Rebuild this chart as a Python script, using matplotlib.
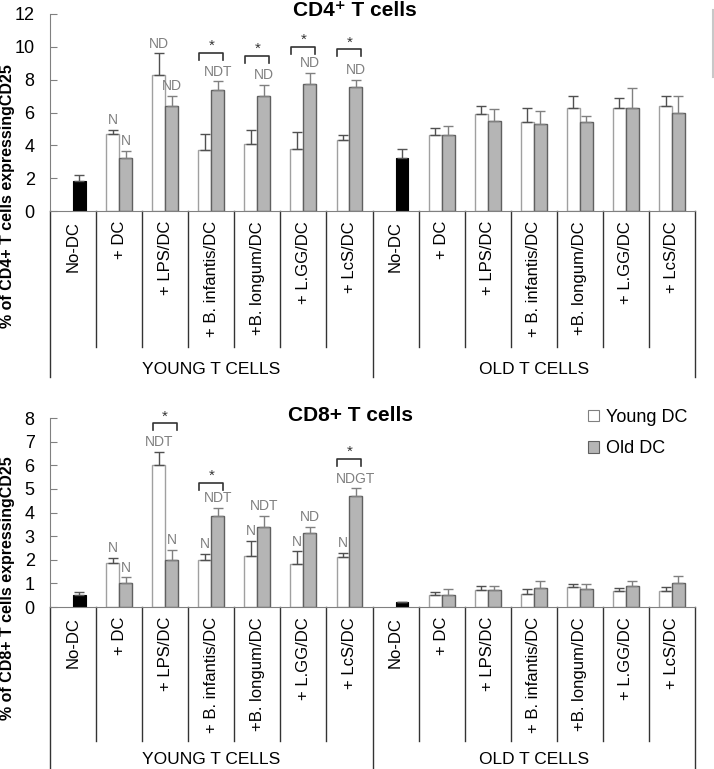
import numpy as np
import matplotlib
matplotlib.use('Agg')
import matplotlib.pyplot as plt
from matplotlib.patches import Patch
from matplotlib.lines import Line2D

plt.rcParams['font.family'] = ['Liberation Sans', 'DejaVu Sans']

# categories, repeated for young and old T cells
cats = ['No-DC', '+ DC', '+ LPS/DC', '+ B. infantis/DC', '+B. longum/DC', '+ L.GG/DC', '+ LcS/DC']
groups = ['YOUNG T CELLS', 'OLD T CELLS']
legend_labels = ['Young DC', 'Old DC']

# CD4+ panel (first 6 = young T cells, last 6 = old T cells)
cd4_nodc = [1.8, 3.2]
cd4_nodc_err = [0.4, 0.6]
cd4_young = [4.7, 8.3, 3.7, 4.1, 3.8, 4.3, 4.6, 5.9, 5.4, 6.3, 6.3, 6.4]
cd4_young_err = [0.25, 1.3, 1.0, 0.85, 1.0, 0.3, 0.45, 0.5, 0.85, 0.7, 0.6, 0.6]
cd4_old = [3.2, 6.4, 7.4, 7.0, 7.75, 7.55, 4.6, 5.5, 5.3, 5.4, 6.3, 6.0]
cd4_old_err = [0.45, 0.6, 0.5, 0.7, 0.65, 0.45, 0.6, 0.7, 0.8, 0.37, 1.2, 1.0]
cd4_young_lbl = ['N', 'ND', '', '', '', '', '', '', '', '', '', '']
cd4_old_lbl = ['N', 'ND', 'NDT', 'ND', 'ND', 'ND', '', '', '', '', '', '']
cd4_sig = [3, 4, 5, 6]
cd4_sig_h = [9.63, 9.43, 10.0, 9.84]

# CD8+ panel
cd8_nodc = [0.5, 0.2]
cd8_nodc_err = [0.15, 0.03]
cd8_young = [1.85, 6.0, 2.0, 2.15, 1.8, 2.1, 0.5, 0.7, 0.56, 0.85, 0.66, 0.66]
cd8_young_err = [0.22, 0.57, 0.25, 0.65, 0.55, 0.2, 0.13, 0.2, 0.22, 0.12, 0.13, 0.18]
cd8_old = [1.0, 2.0, 3.85, 3.4, 3.15, 4.7, 0.5, 0.7, 0.8, 0.77, 0.87, 1.0]
cd8_old_err = [0.25, 0.42, 0.33, 0.45, 0.24, 0.32, 0.25, 0.2, 0.28, 0.2, 0.23, 0.32]
cd8_young_lbl = ['N', 'NDT', 'N', 'N', 'N', 'N', '', '', '', '', '', '']
cd8_old_lbl = ['N', 'N', 'NDT', 'NDT', 'ND', 'NDGT', '', '', '', '', '', '']
cd8_sig = [2, 3, 6]
cd8_sig_h = [7.77, 5.25, 6.27]

W, H = 714, 769
fig = plt.figure(figsize=(W / 100, H / 100), dpi=100)

GREY = '#b5b5b5'
off = 0.14
bw = 0.28


def panel(rect_px, ymax, ystep, nodc, nodc_err, young, young_err, old, old_err,
          ylbl, olbl, sig, sig_h, leg):
    x0, ytop, x1, ybot = rect_px
    ax = fig.add_axes([x0 / W, 1 - ybot / H, (x1 - x0) / W, (ybot - ytop) / H])
    hpx = ybot - ytop
    x_nodc = np.array([0, 7])
    x_dc = np.array([1, 2, 3, 4, 5, 6, 8, 9, 10, 11, 12, 13])

    ax.bar(x_nodc + off, nodc, bw, color='black', edgecolor='black', lw=0.8, zorder=2)
    ax.bar(x_dc - off, young, bw, color='white', edgecolor='#a0a0a0', lw=1, zorder=2)
    ax.bar(x_dc + off, old, bw, color=GREY, edgecolor='#606060', lw=1, zorder=2)
    ax.errorbar(x_nodc + off, nodc, yerr=[np.zeros(2), nodc_err], fmt='none',
                ecolor='#555555', elinewidth=1, capsize=3.5, capthick=1, zorder=3)
    ax.errorbar(x_dc - off, young, yerr=[np.zeros(12), young_err], fmt='none',
                ecolor='#505050', elinewidth=1, capsize=3.5, capthick=1, zorder=3)
    ax.errorbar(x_dc + off, old, yerr=[np.zeros(12), old_err], fmt='none',
                ecolor='#808080', elinewidth=1, capsize=3.5, capthick=1, zorder=3)

    # letters above the bars
    for i in range(12):
        if ylbl[i]:
            ax.annotate(ylbl[i], (x_dc[i] - off, young[i] + young_err[i]), xytext=(0, 2),
                        textcoords='offset points', ha='center', va='bottom',
                        color='#808080', fontsize=10)
        if olbl[i]:
            ax.annotate(olbl[i], (x_dc[i] + off, old[i] + old_err[i]), xytext=(0, 2),
                        textcoords='offset points', ha='center', va='bottom',
                        color='#808080', fontsize=10)

    # significance brackets
    leg_len = 7 / hpx * ymax
    for p, h in zip(sig, sig_h):
        ax.plot([p - 0.26, p - 0.26, p + 0.26, p + 0.26], [h - leg_len, h, h, h - leg_len],
                color='#333333', lw=1.2, clip_on=False, zorder=4)
        ax.text(p, h, '*', ha='center', va='bottom', fontsize=11, color='#333333')

    ax.set_xlim(-0.5, 13.5)
    ax.set_ylim(0, ymax)
    ax.set_yticks(np.arange(0, ymax + 0.01, ystep))
    ax.set_xticks([])
    for s in ['top', 'right']:
        ax.spines[s].set_visible(False)
    ax.spines['left'].set_color('#808080')
    ax.spines['bottom'].set_color('#808080')
    ax.tick_params(axis='y', direction='in', length=5, color='#808080', pad=11, labelsize=13)

    # category label area under the axis
    trans = ax.get_xaxis_transform()
    for b in range(15):
        long_line = b in (0, 7, 14)
        yend = -leg[2] / hpx if long_line else -leg[0] / hpx
        ax.plot([b - 0.5, b - 0.5], [0, yend], transform=trans, color='#333333',
                lw=1, clip_on=False)
    for i in range(14):
        ax.text(i, -10 / hpx, cats[i % 7], rotation=90, ha='center', va='top',
                transform=trans, fontsize=12)
    ax.text(3, -leg[1] / hpx, groups[0], ha='center', va='center', transform=trans, fontsize=12.5)
    ax.text(10, -leg[1] / hpx, groups[1], ha='center', va='center', transform=trans, fontsize=12.5)
    return ax


panel((50, 14, 695, 211), 12, 2, cd4_nodc, cd4_nodc_err, cd4_young, cd4_young_err,
      cd4_old, cd4_old_err, cd4_young_lbl, cd4_old_lbl, cd4_sig, cd4_sig_h, (136, 158, 166))
panel((50, 418, 695, 607), 8, 1, cd8_nodc, cd8_nodc_err, cd8_young, cd8_young_err,
      cd8_old, cd8_old_err, cd8_young_lbl, cd8_old_lbl, cd8_sig, cd8_sig_h, (134, 153, 162))

fig.text(355 / W, 1 - 10 / H, 'CD4⁺ T cells', ha='center', va='center', fontsize=15, fontweight='bold')
fig.text(351 / W, 1 - 415 / H, 'CD8+ T cells', ha='center', va='center', fontsize=15, fontweight='bold')
fig.text(8 / W, 1 - 196 / H, '% of CD4+ T cells expressingCD25', rotation=90, ha='center',
         va='center', fontsize=11.5, fontweight='bold')
fig.text(8 / W, 1 - 588 / H, '% of CD8+ T cells expressingCD25', rotation=90, ha='center',
         va='center', fontsize=11.5, fontweight='bold')

handles = [Patch(facecolor='white', edgecolor='#808080', lw=0.8),
           Patch(facecolor=GREY, edgecolor='#606060', lw=0.8)]
fig.legend(handles, legend_labels, loc='upper left', bbox_to_anchor=(588 / W, 1 - 409 / H),
           frameon=False, fontsize=13, handlelength=0.6, handleheight=0.6,
           handletextpad=0.4, labelspacing=0.8, borderpad=0, borderaxespad=0)

# stray grey line at the right edge of the original figure
fig.add_artist(Line2D([713 / W, 713 / W], [1 - 10 / H, 1 - 77 / H], color='#c8c8c8', lw=1.5))

fig.savefig('out.png', dpi=100)
